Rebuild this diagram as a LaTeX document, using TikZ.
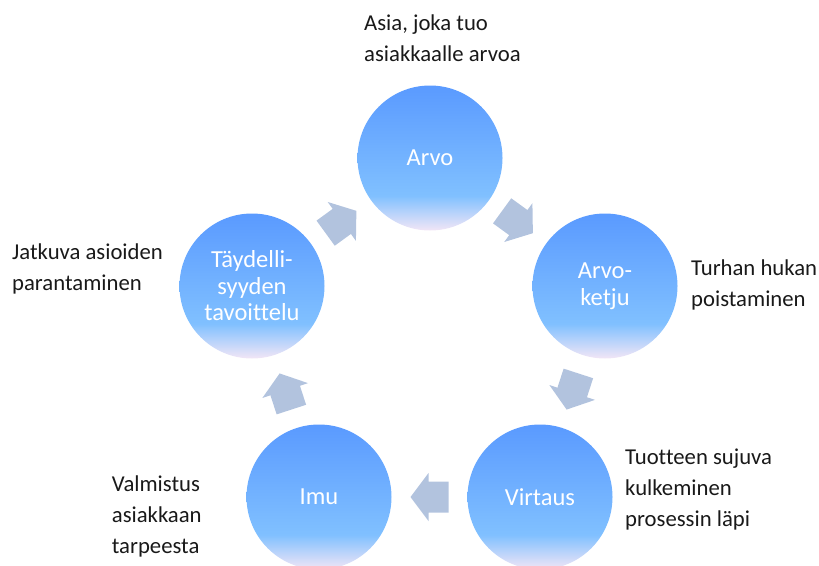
\documentclass[tikz,border=0pt]{standalone}
\usepackage{fontspec}
\setmainfont{Carlito}[Ligatures=NoCommon]
\usetikzlibrary{calc}

\definecolor{topblue}{RGB}{90,154,255}
\definecolor{midblue}{RGB}{128,192,255}
\definecolor{paleend}{RGB}{242,230,246}
\definecolor{arrowfill}{RGB}{178,195,222}
\definecolor{labeltext}{RGB}{25,25,25}

% blue disc fading to a pale lilac at its lower edge
\pgfdeclareverticalshading{stagefill}{100bp}{%
  color(0bp)=(paleend); color(25bp)=(paleend); color(37bp)=(midblue);
  color(75bp)=(topblue); color(100bp)=(topblue)}

\tikzset{
  stage/.style={circle, minimum size=145pt, inner sep=0pt, shade, shading=stagefill,
    text=white, align=center, font=\fontsize{24.5}{26.5}\selectfont},
  % anchored at the baseline of the last line
  note/.style={align=left, inner sep=0pt, text=labeltext,
    font=\fontsize{22.7}{31}\selectfont, anchor=base west},
  flowarrow/.pic={\fill[arrowfill] (-19,-15.5) -- (1,-15.5) -- (1,-24) -- (19,0)
    -- (1,24) -- (1,15.5) -- (-19,15.5) -- cycle;}
}

\begin{document}
\begin{tikzpicture}[x=1pt,y=-1pt]
\clip (0,0) rectangle (819,565);

% the five stages of the cycle
\node[stage] (arvo)    at (430,158) {Arvo};
\node[stage] (ketju)   at (605,286) {Arvo-\\ketju};
\node[stage] (virtaus) at (540,497) {Virtaus};
\node[stage] (imu)     at (319,497) {Imu};
\node[stage] (taydell) at (252,286) {Täydelli-\\syyden\\tavoittelu};

% block arrows between neighbouring stages
\pic[rotate=-36]  at ($(arvo)!0.5!(ketju)$)    {flowarrow};
\pic[rotate=-108] at ($(ketju)!0.5!(virtaus)$) {flowarrow};
\pic[rotate=180]  at ($(virtaus)!0.5!(imu)$)   {flowarrow};
\pic[rotate=108]  at ($(imu)!0.5!(taydell)$)   {flowarrow};
\pic[rotate=36]   at ($(taydell)!0.5!(arvo)$)  {flowarrow};

% explanations beside the stages
\node[note] (arvonote)    at (364,61)    {Asia, joka tuo\\asiakkaalle arvoa};
\node[note] (ketjunote)   at (691,306.5) {Turhan hukan\\poistaminen};
\node[note] (taydnote)    at (12,290)    {Jatkuva asioiden\\parantaminen};
\node[note] (virtausnote) at (625,526.5) {Tuotteen sujuva\\kulkeminen\\prosessin läpi};
\node[note] (imunote)     at (111.7,553) {Valmistus\\asiakkaan\\tarpeesta};
\end{tikzpicture}
\end{document}
